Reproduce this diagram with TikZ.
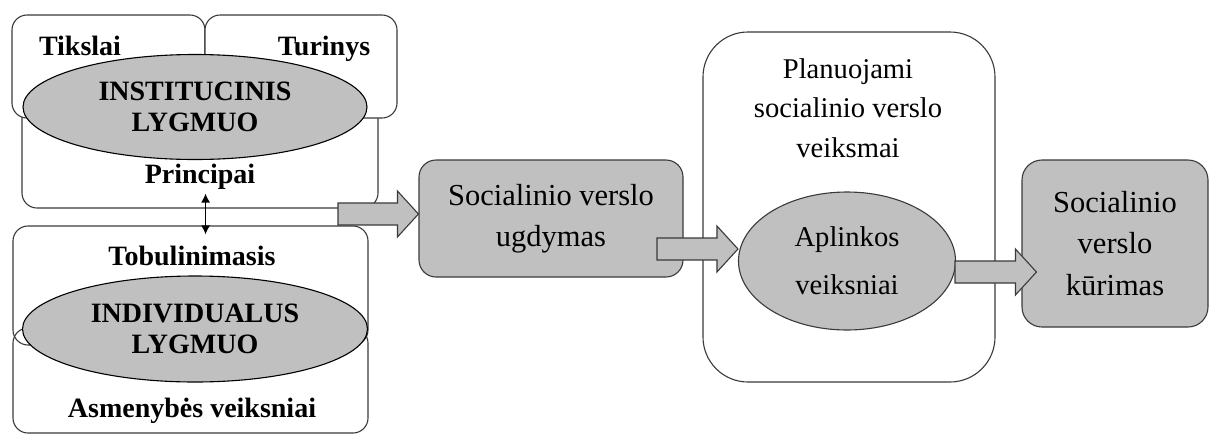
\documentclass[tikz,border=0pt]{standalone}
\usepackage{fontspec}
\setmainfont{Liberation Serif}
\usetikzlibrary{shapes.geometric,arrows.meta,calc}

\definecolor{boxgray}{HTML}{C0C0C0}
\definecolor{edge}{HTML}{3A3A3A}

% wide grey arrow from a start point to the x of a target anchor
\newcommand{\fatarrow}[2]{%
  \draw[fatarr] let \p1=#1, \p2=#2 in
    (\x1,\y1+11pt) -- (\x2-21pt,\y1+11pt) -- (\x2-21pt,\y1+23pt) -- (\x2,\y1)
    -- (\x2-21pt,\y1-23pt) -- (\x2-21pt,\y1-11pt) -- (\x1,\y1-11pt) -- cycle;}

\begin{document}
\begin{tikzpicture}[x=1pt,y=-1pt]
\tikzstyle{every node}+=[inner sep=0pt]
\tikzstyle{frame}=[draw=edge,line width=1.1pt,rounded corners=15pt,fill=white]
\tikzstyle{shaded}=[draw=edge,line width=1.1pt,rounded corners=17pt,fill=boxgray]
\tikzstyle{oval}=[ellipse,draw=black,line width=1.1pt,fill=boxgray]
\tikzstyle{bold}=[font=\fontsize{28}{31}\selectfont\bfseries,align=center]
\tikzstyle{plain}=[font=\fontsize{30.5}{41}\selectfont,align=center]
\tikzstyle{fatarr}=[draw=edge,line width=1.1pt,fill=boxgray]
\useasboundingbox (0,0) rectangle (1210,437);
% institutional level
\node[frame,minimum width=356pt,minimum height=128pt] (princ) at (200,144) {};
\node[frame,minimum width=193pt,minimum height=103pt] (tik) at (108.5,66.5) {};
\node[frame,minimum width=192pt,minimum height=103pt] (tur) at (301,66.5) {};
\node[oval,bold,minimum width=344pt,minimum height=105pt] (inst) at (195,107) {INSTITUCINIS\\LYGMUO};
\node[bold,anchor=base] (tiktxt) at (80,55) {Tikslai};
\node[bold,anchor=base] (turtxt) at (324,55) {Turinys};
\node[bold,anchor=base] (printxt) at (200,183) {Principai};
% individual level
\node[frame,fill=none,minimum width=355pt,minimum height=105pt] (asm) at (190.5,380.5) {};
\node[frame,fill=none,minimum width=355pt,minimum height=119pt] (tob) at (190.5,285.5) {};
\node[oval,bold,minimum width=345pt,minimum height=106pt] (indiv) at (195,329) {INDIVIDUALUS\\LYGMUO};
\node[bold,anchor=base] (tobtxt) at (192,265) {Tobulinimasis};
\node[bold,anchor=base] (asmtxt) at (192,417) {Asmenybės veiksniai};
\draw[line width=1.2pt,{Latex[length=9pt,width=9pt]}-{Latex[length=9pt,width=9pt]}]
  ($(princ.south -| tik.east)+(0,-15)$) -- ($(tob.north -| tik.east)+(0,9)$);
% right part
\node[shaded,plain,minimum width=264pt,minimum height=117pt] (ugd) at (551,218.5) {Socialinio verslo\\ugdymas};
\node[frame,rounded corners=45pt,minimum width=292pt,minimum height=350pt] (plan) at (849,207) {};
\node[plain,font=\fontsize{28.6}{39.5}\selectfont,anchor=north] (plantxt) at (848,58) {Planuojami\\socialinio verslo\\veiksmai};
\node[oval,draw=edge,plain,font=\fontsize{28.6}{48}\selectfont,minimum width=217pt,minimum height=138pt] (apl) at (847,261) {Aplinkos\\veiksniai};
\node[shaded,rounded corners=20pt,plain,font=\fontsize{30.5}{41.5}\selectfont,minimum width=186pt,minimum height=167pt] (kur) at (1115,243.5) {Socialinio\\verslo\\kūrimas};
\coordinate (a1) at (338,214);
\coordinate (a2) at (657,249);
\coordinate (a3) at (955,272);
\fatarrow{(a1)}{(ugd.west)}
\fatarrow{(a2)}{(apl.west)}
\fatarrow{(a3)}{([xshift=15pt]kur.west)}
\end{tikzpicture}
\end{document}
